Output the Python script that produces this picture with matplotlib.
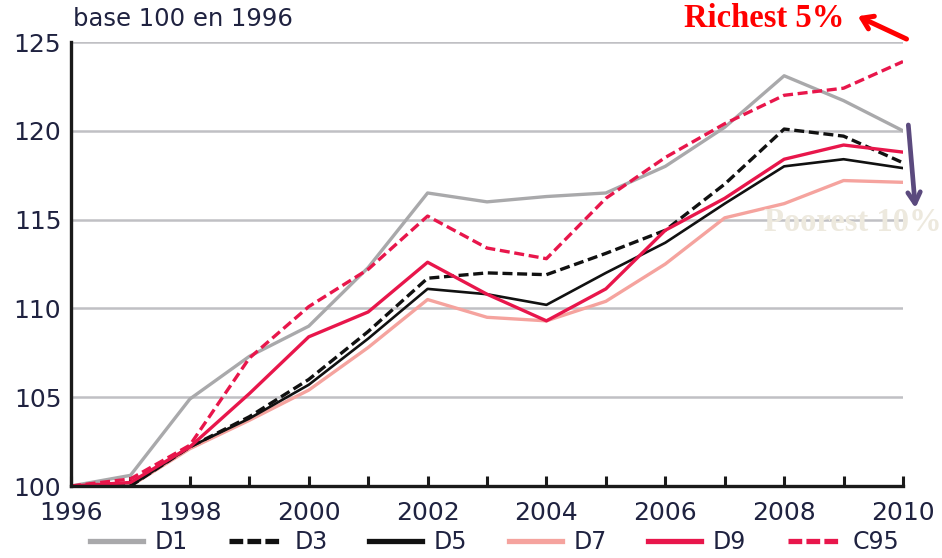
import matplotlib
matplotlib.use('Agg')
import matplotlib.pyplot as plt

years = list(range(1996, 2011))
d1 = [100, 100.6, 104.9, 107.3, 109.0, 112.3, 116.5, 116.0, 116.3, 116.5, 118.0, 120.2, 123.1, 121.7, 120.0]
d3 = [100, 100.0, 102.2, 103.9, 106.0, 108.7, 111.7, 112.0, 111.9, 113.1, 114.4, 117.0, 120.1, 119.7, 118.2]
d5 = [100, 100.0, 102.2, 103.8, 105.7, 108.3, 111.1, 110.8, 110.2, 112.0, 113.7, 115.9, 118.0, 118.4, 117.9]
d7 = [100, 100.0, 102.1, 103.7, 105.4, 107.8, 110.5, 109.5, 109.3, 110.4, 112.5, 115.1, 115.9, 117.2, 117.1]
d9 = [100, 100.2, 102.2, 105.2, 108.4, 109.8, 112.6, 110.8, 109.3, 111.1, 114.4, 116.2, 118.4, 119.2, 118.8]
c95 = [100, 100.4, 102.3, 107.2, 110.1, 112.2, 115.2, 113.4, 112.8, 116.2, 118.5, 120.4, 122.0, 122.4, 123.9]

GREY = '#a9a9ab'
SALMON = '#f5a39e'
CRIMSON = '#e8164b'
TXT = '#1f2240'
SERIF = ['Liberation Serif', 'DejaVu Serif']

plt.rcParams['font.family'] = ['DejaVu Sans']

fig = plt.figure(figsize=(9.42, 5.58), dpi=100, facecolor='white')
ax = fig.add_axes([0.0754, 0.129, 0.8832, 0.7957])

lw = 2.4
dash = (3.0, 1.4)
ax.plot(years, d1, color=GREY, lw=lw, label='D1', zorder=3)
ax.plot(years, d7, color=SALMON, lw=lw, label='D7', zorder=3)
ax.plot(years, d5, color='#111111', lw=1.9, label='D5', zorder=4)
ax.plot(years, d3, color='#111111', lw=lw, dashes=dash, label='D3', zorder=4)
ax.plot(years, d9, color=CRIMSON, lw=lw, label='D9', zorder=5)
ax.plot(years, c95, color=CRIMSON, lw=lw, dashes=dash, label='C95', zorder=5)

ax.set_xlim(1996, 2010)
ax.set_ylim(100, 125)
ax.set_yticks([100, 105, 110, 115, 120, 125])
ax.set_xticks(years)
ax.set_xticklabels([str(y) if y % 2 == 0 else '' for y in years])
ax.yaxis.grid(True, color='#c0c0c4', lw=1.8, zorder=0)
ax.set_axisbelow(True)

for s in ['top', 'right']:
    ax.spines[s].set_visible(False)
for s in ['left', 'bottom']:
    ax.spines[s].set_linewidth(2.4)
    ax.spines[s].set_color('#1a1a1a')
    ax.spines[s].set_zorder(6)

ax.tick_params(axis='x', direction='in', length=7, width=2.2, color='#1a1a1a',
               labelsize=18, labelcolor=TXT, pad=11)
ax.tick_params(axis='y', length=0, labelsize=18, labelcolor=TXT, pad=7)

fig.text(0.077, 0.966, 'base 100 en 1996', fontsize=17.5, color=TXT,
         ha='left', va='center')

handles, labels = ax.get_legend_handles_labels()
order = ['D1', 'D3', 'D5', 'D7', 'D9', 'C95']
hmap = dict(zip(labels, handles))
leg = fig.legend([hmap[k] for k in order], order, loc='center left', ncol=6,
                 bbox_to_anchor=(0.0955, 0.029), frameon=False, fontsize=17,
                 handlelength=2.25, columnspacing=1.75, handletextpad=0.5,
                 borderpad=0, borderaxespad=0, labelcolor=TXT)
for name, line in zip(order, leg.get_lines()):
    line.set_linewidth(3.8)
    if name in ('D3', 'C95'):
        line.set_dashes((2.6, 0.8))

fig.text(0.811, 0.967, 'Richest 5%', fontsize=23.5, fontweight='bold',
         color='#ff0000', family=SERIF, ha='center', va='center')
ax.annotate('', xy=(0.908, 0.973), xytext=(0.965, 0.928),
            xycoords='figure fraction', textcoords='figure fraction',
            arrowprops=dict(arrowstyle='->,head_length=0.75,head_width=0.5',
                            color='#ff0000', lw=3.6), annotation_clip=False)

fig.text(0.905, 0.601, 'Poorest 10%', fontsize=23.5, fontweight='bold',
         color='#ede9de', family=SERIF, ha='center', va='center', zorder=1)
ax.annotate('', xy=(0.972, 0.622), xytext=(0.964, 0.781),
            xycoords='figure fraction', textcoords='figure fraction',
            arrowprops=dict(arrowstyle='->,head_length=0.8,head_width=0.45',
                            color='#5b4a7e', lw=3.4), annotation_clip=False)

fig.savefig('out.png', dpi=100)
